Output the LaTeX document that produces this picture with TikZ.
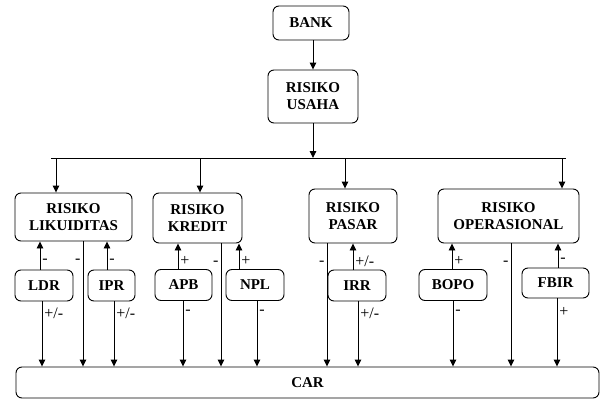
\documentclass[tikz,border=0pt]{standalone}
\usepackage{fontspec}
\setmainfont{Liberation Serif}
\usetikzlibrary{arrows.meta}

\begin{document}
\begin{tikzpicture}[
    x=1pt, y=-1pt,
    box/.style={draw, line width=0.9pt, rounded corners=6pt, align=center, inner sep=0pt,
        font=\bfseries\fontsize{15}{17}\selectfont},
    arrow/.style={-{Triangle[length=7pt, width=6.5pt]}, line width=0.9pt},
    sign/.style={font=\fontsize{16}{16}\selectfont, inner sep=2pt}
]
    \path[use as bounding box, fill=white] (0,0) rectangle (603,399);

    \node[box, minimum width=76pt, minimum height=34pt] (bank) at (311,23) {BANK};
    \node[box, minimum width=90pt, minimum height=53pt] (usaha) at (313,96.5) {RISIKO\\USAHA};

    \node[box, minimum width=117pt, minimum height=48pt] (likuid) at (73.5,217) {RISIKO\\LIKUIDITAS};
    \node[box, minimum width=89pt, minimum height=50pt] (kredit) at (197.5,218) {RISIKO\\KREDIT};
    \node[box, minimum width=88pt, minimum height=54pt] (pasar) at (353,216) {RISIKO\\PASAR};
    \node[box, minimum width=141pt, minimum height=54pt] (oper) at (508.5,216) {RISIKO\\OPERASIONAL};

    \node[box, minimum width=58pt, minimum height=31pt] (ldr) at (44,285.5) {LDR};
    \node[box, minimum width=47pt, minimum height=31pt] (ipr) at (111.5,285.5) {IPR};
    \node[box, minimum width=57pt, minimum height=31pt] (apb) at (183.5,285) {APB};
    \node[box, minimum width=58pt, minimum height=31pt] (npl) at (255,285) {NPL};
    \node[box, minimum width=58pt, minimum height=31pt] (irr) at (357,285.5) {IRR};
    \node[box, minimum width=68pt, minimum height=31pt] (bopo) at (453,285) {BOPO};
    \node[box, minimum width=67pt, minimum height=30pt] (fbir) at (555.5,283) {FBIR};

    \node[box, minimum width=583pt, minimum height=31pt] (car) at (307.5,382.5) {CAR};

    % bank ke risiko usaha
    \draw[arrow] (usaha.north |- bank.south) -- (usaha.north);
    \coordinate (busL) at (51,158);
    \coordinate (busR) at (566,158);
    \draw[arrow] (usaha.south) -- (usaha.south |- busL);
    \draw[line width=0.9pt] (busL) -- (busR);

    \draw[arrow] ([xshift=-17.5pt]likuid.north |- busL) -- ([xshift=-17.5pt]likuid.north);
    \draw[arrow] ([xshift=2.5pt]kredit.north |- busL) -- ([xshift=2.5pt]kredit.north);
    \draw[arrow] ([xshift=-8pt]pasar.north |- busL) -- ([xshift=-8pt]pasar.north);
    \draw[arrow] ([xshift=53.5pt]oper.north |- busL) -- ([xshift=53.5pt]oper.north);

    % rasio ke risiko
    \draw[arrow] ([xshift=-4pt]ldr.north) -- node[sign, pos=0.3, right]{-} ([xshift=-4pt]ldr.north |- likuid.south);
    \draw[arrow] ([xshift=-4.5pt]ipr.north) -- node[sign, pos=0.3, right]{-} ([xshift=-4.5pt]ipr.north |- likuid.south);
    \draw[arrow] ([xshift=-5.5pt]apb.north) -- node[sign, pos=0.3, right]{+} ([xshift=-5.5pt]apb.north |- kredit.south);
    \draw[arrow] ([xshift=-16pt]npl.north) -- node[sign, pos=0.3, right]{+} ([xshift=-16pt]npl.north |- kredit.south);
    \draw[arrow] ([xshift=-4pt]irr.north) -- node[sign, pos=0.3, right]{+/-} ([xshift=-4pt]irr.north |- pasar.south);
    \draw[arrow] ([xshift=-1pt]bopo.north) -- node[sign, pos=0.3, right]{+} ([xshift=-1pt]bopo.north |- oper.south);
    \draw[arrow] ([xshift=2.5pt]fbir.north) -- node[sign, pos=0.3, right]{-} ([xshift=2.5pt]fbir.north |- oper.south);

    % rasio ke CAR
    \draw[arrow] ([xshift=-2pt]ldr.south) -- node[sign, pos=0.18, right]{+/-} ([xshift=-2pt]ldr.south |- car.north);
    \draw[arrow] ([xshift=2.5pt]ipr.south) -- node[sign, pos=0.18, right]{+/-} ([xshift=2.5pt]ipr.south |- car.north);
    \draw[arrow] ([xshift=-0.5pt]apb.south) -- node[sign, pos=0.18, right]{-} ([xshift=-0.5pt]apb.south |- car.north);
    \draw[arrow] ([xshift=2pt]npl.south) -- node[sign, pos=0.18, right]{-} ([xshift=2pt]npl.south |- car.north);
    \draw[arrow] ([xshift=1pt]irr.south) -- node[sign, pos=0.18, right]{+/-} ([xshift=1pt]irr.south |- car.north);
    \draw[arrow] (bopo.south) -- node[sign, pos=0.18, right]{-} (bopo.south |- car.north);
    \draw[arrow] ([xshift=1.5pt]fbir.south) -- node[sign, pos=0.2, right]{+} ([xshift=1.5pt]fbir.south |- car.north);

    % risiko ke CAR
    \draw[arrow] ([xshift=9.5pt]likuid.south) -- node[sign, pos=0.16, left]{-} ([xshift=9.5pt]likuid.south |- car.north);
    \draw[arrow] ([xshift=23.5pt]kredit.south) -- node[sign, pos=0.16, left]{-} ([xshift=23.5pt]kredit.south |- car.north);
    \draw[arrow] ([xshift=-26pt]pasar.south) -- node[sign, pos=0.16, left]{-} ([xshift=-26pt]pasar.south |- car.north);
    \draw[arrow] ([xshift=2.5pt]oper.south) -- node[sign, pos=0.16, left]{-} ([xshift=2.5pt]oper.south |- car.north);
\end{tikzpicture}
\end{document}
